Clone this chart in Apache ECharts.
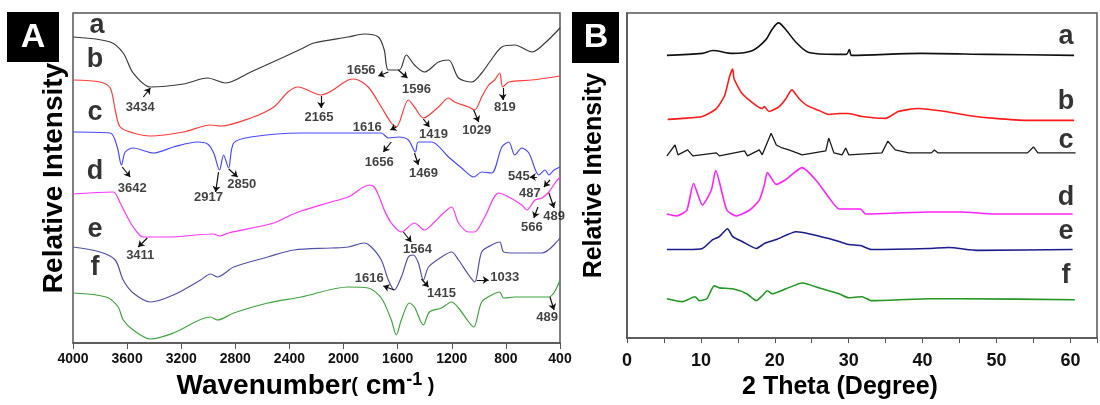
<!DOCTYPE html>
<html>
<head>
<meta charset="utf-8">
<script src="https://cdn.jsdelivr.net/npm/echarts@6/dist/echarts.min.js"></script>
<style>
html, body { margin: 0; padding: 0; background: #fff; }
#chart { width: 1100px; height: 405px; }
</style>
</head>
<body>
<div id="chart"></div>
<script>
// Panel A - FTIR spectra, offset stacked (wavenumber cm-1 / relative intensity)
var irWnA = [4000,3725,3629,3555,3428,3184,3005,2872,2686,2441,2314,2219,1966,1847,1743,1699,1669,1588,1536,1476,1402,1298,1224,1150,1053,979,920,830,734,608,511,400];
var irA   = [306,301,290,270,256,259,265,260,271,286,294,300,306,309,306,293,273,273,288,278,271,281,283,265,261,270,281,296,298,291,300,315];
var irWnB = [4000,3800,3725,3688,3651,3555,3428,3184,2983,2909,2686,2515,2411,2337,2166,1966,1922,1818,1721,1647,1610,1521,1476,1410,1298,1224,1180,1075,1031,979,927,883,846,823,779,608,400];
var irB   = [263,261,255,233,216,210,207,211,218,217,225,236,251,256,248,263,264,256,236,220,216,243,236,225,236,245,241,236,233,246,258,263,270,256,261,263,267];
var irWnC = [4000,3725,3673,3642,3614,3555,3406,3258,3080,3005,2960,2917,2887,2850,2812,2686,2314,1847,1721,1669,1595,1521,1469,1447,1350,1224,1127,1038,979,905,830,779,734,682,630,556,511,482,444,400];
var irC   = [211,210,196,178,191,195,190,196,201,199,190,173,188,175,200,206,210,210,210,205,206,203,191,201,201,186,175,166,171,170,196,201,188,195,190,168,173,168,173,176];
var irWnD = [4000,3703,3651,3614,3555,3480,3302,2960,2917,2850,2515,2389,2314,2092,1966,1810,1773,1736,1699,1647,1573,1476,1402,1328,1261,1202,1150,1075,1031,957,853,779,682,645,585,533,482,437,400];
var irD   = [149,151,140,130,116,106,106,109,107,110,120,128,132,141,146,158,156,146,133,120,111,120,113,121,130,136,120,111,111,126,150,146,138,133,143,145,151,160,166];
var irWnE = [4000,3800,3688,3629,3555,3428,3258,3057,2983,2932,2812,2560,2367,2092,1966,1847,1795,1721,1669,1625,1573,1521,1484,1447,1410,1372,1276,1202,1150,1075,1031,979,905,846,816,734,533,400];
var irE   = [96,91,83,63,50,41,48,63,69,66,76,86,93,95,96,100,96,83,63,53,66,86,88,80,63,76,86,91,83,68,61,91,98,101,91,90,90,105];
var irWnF = [4000,3755,3666,3629,3555,3428,3258,2983,2932,2812,2560,2314,1966,1818,1721,1647,1610,1573,1514,1476,1410,1365,1276,1202,1150,1075,1038,979,905,846,816,734,482,400];
var irF   = [50,46,36,23,13,4,10,26,23,30,40,46,56,55,45,23,8,23,40,36,18,31,35,41,35,21,16,41,48,51,45,46,46,63];

// peak annotations for panel A
var annText = ['3434','1656','1596','2165','1616','1419','1029','819','3642','2917','2850','1656','1469','545','487','489','566','3411','1564','1616','1415','1033','489'];
var annAt = [[3503,236],[1870,273],[1461,254],[2181,226],[1825,216],[1335,209],[1016,213],[808,236],[3562,155],[2998,146],[2753,159],[1736,181],[1409,170],[704,167],[623,150],[444,127],[608,116],[3503,88],[1454,94],[1810,65],[1276,50],[808,66],[496,26]];
var annFrom = [[3480,246],[1669,271],[1595,273],[2166,247],[1610,216],[1410,224],[1038,233],[823,255],[3636,176],[2924,171],[2849,174],[1647,201],[1476,190],[571,166],[474,163],[482,150],[563,136],[3451,105],[1558,111],[1625,53],[1424,64],[1016,63],[474,46]];
var annTo = [[3428,255],[1743,267],[1528,265],[2166,235],[1654,213],[1365,216],[1001,221],[823,243],[3577,166],[2946,151],[2783,166],[1706,191],[1447,178],[623,166],[519,156],[444,135],[593,125],[3518,96],[1499,101],[1706,57],[1372,56],[927,63],[444,33]];

// Panel B - XRD patterns (2 theta / relative intensity)
var xrdThA = [5.4,10.2,11.6,14.3,17.0,18.8,19.6,20.5,21.5,22.9,24.6,28.3,29.7,30.1,30.4,39.8,48.9,60.5];
var xrdA   = [287,289,292,289,292,303,313,320,313,300,290,288,288,293,287,289,288,287];
var xrdThB = [5.5,7.5,10.2,12.1,13.2,13.9,14.3,14.5,15.6,17.5,18.3,18.6,19.2,20.6,21.5,22.3,23.3,24.4,26.0,27.3,28.7,30.0,31.8,35.0,36.7,39.4,43.1,46.2,49.8,54.2,60.5];
var xrdB   = [222,223,225,233,246,266,273,263,248,236,233,235,230,235,243,252,243,236,231,227,228,228,225,223,230,233,230,226,223,221,221];
var xrdThC = [5.4,6.5,6.9,8.2,8.9,12.1,12.5,15.9,16.3,17.9,18.3,19.5,20.2,21.0,21.9,23.7,26.9,27.3,28.0,29.1,29.6,30.0,34.5,35.3,36.3,38.1,41.2,41.6,42.1,54.2,55.0,55.6,60.7];
var xrdC   = [185,196,186,191,185,188,185,190,185,191,186,208,196,193,191,186,190,203,188,186,193,186,188,200,191,188,188,191,188,188,194,188,188];
var xrdThD = [5.4,6.7,8.1,9.0,10.2,11.4,12.0,13.5,14.8,16.6,17.9,18.6,19.0,20.2,21.5,23.7,25.6,27.3,28.7,30.0,31.6,32.3,40.8,45.2,49.8,60.3];
var xrdD   = [126,124,130,157,135,150,170,130,124,130,140,156,168,156,161,173,160,143,131,131,131,126,128,128,126,126];
var xrdThE = [5.4,8.1,10.2,11.6,12.5,13.6,14.3,15.6,17.5,18.6,20.2,22.9,24.6,27.3,28.7,30.0,31.6,33.1,40.8,43.5,47.5,60.3];
var xrdE   = [90,90,91,100,103,111,103,98,91,96,100,108,106,101,98,95,94,90,91,92,89,90];
var xrdThF = [5.4,7.5,9.2,9.8,10.8,11.8,12.5,14.3,16.2,17.5,18.3,19.0,19.6,21.5,23.7,26.4,28.7,30.0,31.8,33.1,40.8,45.2,60.6];
var xrdF   = [40,37,42,38,40,53,51,50,45,38,43,48,45,50,56,50,45,41,42,38,40,40,39];

// curve letters
var letters = ['a','b','c','d','e','f'];
var letterPosA = [[3822,317],[3837,283],[3837,230],[3837,171],[3837,113],[3837,75]];
var letterPosB = [[59.4,306],[59.4,240],[59.4,201],[59.4,143],[59.4,108],[59.4,63]];

var FONT = 'Liberation Sans, Arial, sans-serif';

function zip(xs, ys) {
  var out = [];
  for (var i = 0; i < xs.length; i++) out.push([xs[i], ys[i]]);
  return out;
}

function curve(idx, xs, ys, color, width, smooth) {
  return {
    type: 'line',
    xAxisIndex: idx,
    yAxisIndex: idx,
    data: zip(xs, ys),
    showSymbol: false,
    smooth: smooth,
    lineStyle: { color: color, width: width },
    z: 2
  };
}

function letterSeries(idx, pos) {
  return {
    type: 'scatter',
    xAxisIndex: idx,
    yAxisIndex: idx,
    symbolSize: 1,
    itemStyle: { color: 'rgba(0,0,0,0)' },
    data: pos,
    label: {
      show: true,
      position: 'inside',
      formatter: function (p) { return letters[p.dataIndex]; },
      fontFamily: FONT,
      fontWeight: 'bold',
      fontSize: 27,
      color: '#000'
    },
    z: 5
  };
}

var chart = echarts.init(document.getElementById('chart'));

var option = {
  animation: false,
  backgroundColor: '#fff',
  grid: [
    { left: 73, top: 13, width: 487, height: 330, show: true, borderColor: '#555', borderWidth: 1.5 },
    { left: 627, top: 13, right: 0, height: 330, show: true, borderColor: '#555', borderWidth: 1.5 }
  ],
  xAxis: [
    {
      gridIndex: 0,
      type: 'value',
      min: 400,
      max: 4000,
      interval: 400,
      inverse: true,
      axisLine: { lineStyle: { color: '#555', width: 1.5 } },
      axisTick: { show: true, length: 6, lineStyle: { color: '#555' } },
      splitLine: { show: false },
      axisLabel: {
        fontFamily: FONT, fontWeight: 'bold', fontSize: 14, color: '#111', margin: 9,
        formatter: function (v) { return String(v); }
      },
      name: '{w|Wavenumber}{p|(}{c| cm}{s|-1}{p| )}',
      nameLocation: 'middle',
      nameGap: 28,
      nameTextStyle: {
        padding: [0, 22, 0, 0],
        rich: {
          w: { fontFamily: FONT, fontWeight: 'bold', fontSize: 28, color: '#000' },
          c: { fontFamily: FONT, fontWeight: 'bold', fontSize: 28, color: '#000' },
          p: { fontFamily: FONT, fontWeight: 'bold', fontSize: 20, color: '#000' },
          s: { fontFamily: FONT, fontWeight: 'bold', fontSize: 18, color: '#000', verticalAlign: 'top', padding: [0, 0, 12, 0] }
        }
      }
    },
    {
      gridIndex: 1,
      type: 'value',
      min: 0,
      max: 63.6,
      interval: 5,
      axisLine: { lineStyle: { color: '#555', width: 1.5 } },
      axisTick: { show: true, length: 5, lineStyle: { color: '#555' } },
      splitLine: { show: false },
      axisLabel: {
        fontFamily: FONT, fontWeight: 'bold', fontSize: 18, color: '#111', margin: 14,
        formatter: function (v) { return v % 10 === 0 ? String(v) : ''; }
      },
      name: '2 Theta (Degree)',
      nameLocation: 'middle',
      nameGap: 36,
      nameTextStyle: { fontFamily: FONT, fontWeight: 'bold', fontSize: 25, color: '#000', padding: [0, 44, 0, 0] }
    }
  ],
  yAxis: [
    {
      gridIndex: 0,
      type: 'value',
      min: 0,
      max: 330,
      axisLine: { show: false },
      axisTick: { show: false },
      axisLabel: { show: false },
      splitLine: { show: false },
      name: 'Relative Intensity',
      nameLocation: 'middle',
      nameGap: 5,
      nameTextStyle: { fontFamily: FONT, fontWeight: 'bold', fontSize: 28, color: '#000' }
    },
    {
      gridIndex: 1,
      type: 'value',
      min: 0,
      max: 330,
      axisLine: { show: true, lineStyle: { color: '#555', width: 1.5 } },
      axisTick: { show: false },
      axisLabel: { show: false },
      splitLine: { show: false },
      name: 'Relative Intensity',
      nameLocation: 'middle',
      nameGap: 20,
      nameTextStyle: { fontFamily: FONT, fontWeight: 'bold', fontSize: 25, color: '#000' }
    }
  ],
  graphic: [
    {
      type: 'group', left: 7, top: 12,
      children: [
        { type: 'rect', shape: { x: 0, y: 0, width: 52, height: 50 }, style: { fill: '#000' } },
        { type: 'text', x: 26, y: 26, style: { text: 'A', fill: '#fff', fontFamily: FONT, fontWeight: 'bold', fontSize: 34, align: 'center', verticalAlign: 'middle' } }
      ]
    },
    {
      type: 'group', left: 572, top: 12,
      children: [
        { type: 'rect', shape: { x: 0, y: 0, width: 47, height: 51 }, style: { fill: '#000' } },
        { type: 'text', x: 24, y: 26, style: { text: 'B', fill: '#fff', fontFamily: FONT, fontWeight: 'bold', fontSize: 34, align: 'center', verticalAlign: 'middle' } }
      ]
    }
  ],
  series: [
    curve(0, irWnA, irA, '#3a3a3a', 1.2, 0.3),
    curve(0, irWnB, irB, '#ff3b3b', 1.2, 0.3),
    curve(0, irWnC, irC, '#4a4aff', 1.2, 0.3),
    curve(0, irWnD, irD, '#ff33ff', 1.2, 0.3),
    curve(0, irWnE, irE, '#5252a8', 1.2, 0.3),
    curve(0, irWnF, irF, '#3fa33f', 1.2, 0.3),
    {
      type: 'lines',
      coordinateSystem: 'cartesian2d',
      xAxisIndex: 0,
      yAxisIndex: 0,
      symbol: ['none', 'arrow'],
      symbolSize: 6,
      lineStyle: { color: '#111', width: 1.2, opacity: 1 },
      data: annFrom.map(function (f, i) { return { coords: [f, annTo[i]] }; }),
      z: 4
    },
    {
      type: 'scatter',
      xAxisIndex: 0,
      yAxisIndex: 0,
      symbolSize: 1,
      itemStyle: { color: 'rgba(0,0,0,0)' },
      data: annAt,
      label: {
        show: true,
        position: 'inside',
        formatter: function (p) { return annText[p.dataIndex]; },
        fontFamily: FONT,
        fontWeight: 'bold',
        fontSize: 13,
        color: '#111'
      },
      z: 5
    },
    letterSeries(0, letterPosA),
    curve(1, xrdThA, xrdA, '#111111', 1.6, 0.3),
    curve(1, xrdThB, xrdB, '#ff1a1a', 1.6, 0.2),
    curve(1, xrdThC, xrdC, '#1a1a1a', 1.3, false),
    curve(1, xrdThD, xrdD, '#ff22ff', 1.6, 0.2),
    curve(1, xrdThE, xrdE, '#1c1c8a', 1.6, 0.2),
    curve(1, xrdThF, xrdF, '#239623', 1.6, 0.2),
    letterSeries(1, letterPosB)
  ]
};

chart.setOption(option);
</script>
</body>
</html>
